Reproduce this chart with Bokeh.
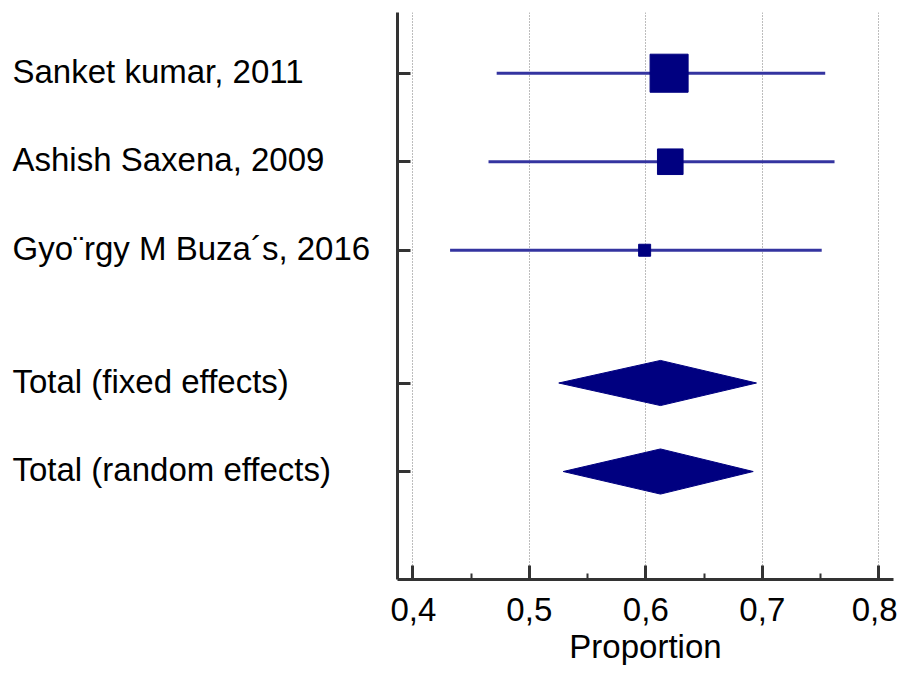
from bokeh.plotting import figure
from bokeh.layouts import row
from bokeh.models import ColumnDataSource, Range1d, FixedTicker
from bokeh.core.properties import value
from bokeh.embed import file_html
from bokeh.resources import INLINE

# ---- data ----
study_labels = ["Sanket kumar, 2011", "Ashish Saxena, 2009", "Gyo\u00a8rgy M Buza\u00b4s, 2016"]
study_rows = [1, 2, 3]
study_est = [0.620, 0.621, 0.599]
study_lo = [0.472, 0.465, 0.432]
study_hi = [0.754, 0.762, 0.751]
study_weight = [64.4, 29.2, 6.4]   # relative weights (%)

total_labels = ["Total (fixed effects)", "Total (random effects)"]
total_rows = [4.5, 5.5]
total_est = [0.6126, 0.6126]
total_lo = [0.5253, 0.5291]
total_hi = [0.6950, 0.6922]

x_ticks = [0.4, 0.5, 0.6, 0.7, 0.8]
x_tick_labels = ["0,4", "0,5", "0,6", "0,7", "0,8"]
x_minor_ticks = [0.45, 0.55, 0.65, 0.75]
x_title = "Proportion"

FONT = "Liberation Sans"
AXIS_COLOR = "#333333"
NAVY = "#000080"
CI_COLOR = "#3434a0"

H = 669
TOP, BOTTOM = 12, 90
LEFT_W = 390
y_range = Range1d(6.72, 0.314)

# ---- label panel ----
pl = figure(width=LEFT_W, height=H, output_backend="svg", toolbar_location=None,
            x_range=Range1d(0, LEFT_W), y_range=y_range,
            x_axis_location=None, y_axis_location=None,
            min_border_left=0, min_border_right=0, min_border_top=TOP,
            min_border_bottom=BOTTOM)
pl.outline_line_color = None
pl.grid.grid_line_color = None
lab_src = ColumnDataSource(dict(x=[12] * 5, y=study_rows + total_rows,
                                text=study_labels + total_labels))
pl.text(x="x", y="y", text="text", source=lab_src, text_font=value(FONT),
        text_font_size="33px", text_color="black", text_baseline="middle",
        text_align="left", y_offset=-2)

# ---- forest plot ----
p = figure(width=897 - LEFT_W, height=H, output_backend="svg", toolbar_location=None,
           x_range=Range1d(0.38687, 0.81262), y_range=y_range,
           min_border_left=397 - LEFT_W, min_border_right=4, min_border_top=TOP,
           min_border_bottom=BOTTOM)
p.outline_line_color = None
p.background_fill_color = "white"
p.border_fill_color = "white"

# x axis
xa = p.xaxis[0]
xa.ticker = FixedTicker(ticks=x_ticks, minor_ticks=x_minor_ticks)
xa.major_label_overrides = {t: l for t, l in zip(x_ticks, x_tick_labels)}
xa.axis_line_width = 3
xa.axis_line_color = AXIS_COLOR
xa.major_tick_in = 14
xa.major_tick_out = 0
xa.major_tick_line_width = 3
xa.major_tick_line_color = AXIS_COLOR
xa.minor_tick_in = 6
xa.minor_tick_out = 0
xa.minor_tick_line_width = 2
xa.minor_tick_line_color = AXIS_COLOR
xa.major_label_text_font = FONT
xa.major_label_text_font_size = "33px"
xa.major_label_text_color = "black"
xa.major_label_standoff = 18
xa.axis_label = x_title
xa.axis_label_text_font = FONT
xa.axis_label_text_font_size = "33px"
xa.axis_label_text_font_style = "normal"
xa.axis_label_text_color = "black"
xa.axis_label_standoff = 4

# y axis (ticks only)
ya = p.yaxis[0]
ya.ticker = FixedTicker(ticks=study_rows + total_rows, minor_ticks=[])
ya.axis_line_width = 3
ya.axis_line_color = AXIS_COLOR
ya.major_tick_in = 13
ya.major_tick_out = 0
ya.major_tick_line_width = 3
ya.major_tick_line_color = AXIS_COLOR
ya.major_label_overrides = {r: "" for r in study_rows + total_rows}
ya.major_label_standoff = 0
ya.minor_tick_line_color = None

# grid
p.ygrid.grid_line_color = None
p.xgrid.ticker = FixedTicker(ticks=x_ticks)
p.xgrid.grid_line_color = "#7a7a7a"
p.xgrid.grid_line_dash = "1 2"
p.xgrid.grid_line_width = 1

# confidence intervals for studies
src = ColumnDataSource(dict(
    y=study_rows, est=study_est, lo=study_lo, hi=study_hi,
    size=[4.74 * w ** 0.5 for w in study_weight],
))
p.segment(x0="lo", x1="hi", y0="y", y1="y", source=src,
          line_color=CI_COLOR, line_width=3)
p.scatter(x="est", y="y", size="size", marker="square", source=src,
          fill_color=NAVY, line_color=NAVY, line_width=1)

# diamonds for totals
half_h = 0.255
xs = [[lo, est, hi, est] for lo, est, hi in zip(total_lo, total_est, total_hi)]
ys = [[r, r - half_h, r, r + half_h] for r in total_rows]
p.patches(xs=xs, ys=ys, fill_color=NAVY, line_color=NAVY, line_width=1)

layout = row(pl, p, spacing=0)
open("out.html", "w").write(file_html(layout, INLINE))
